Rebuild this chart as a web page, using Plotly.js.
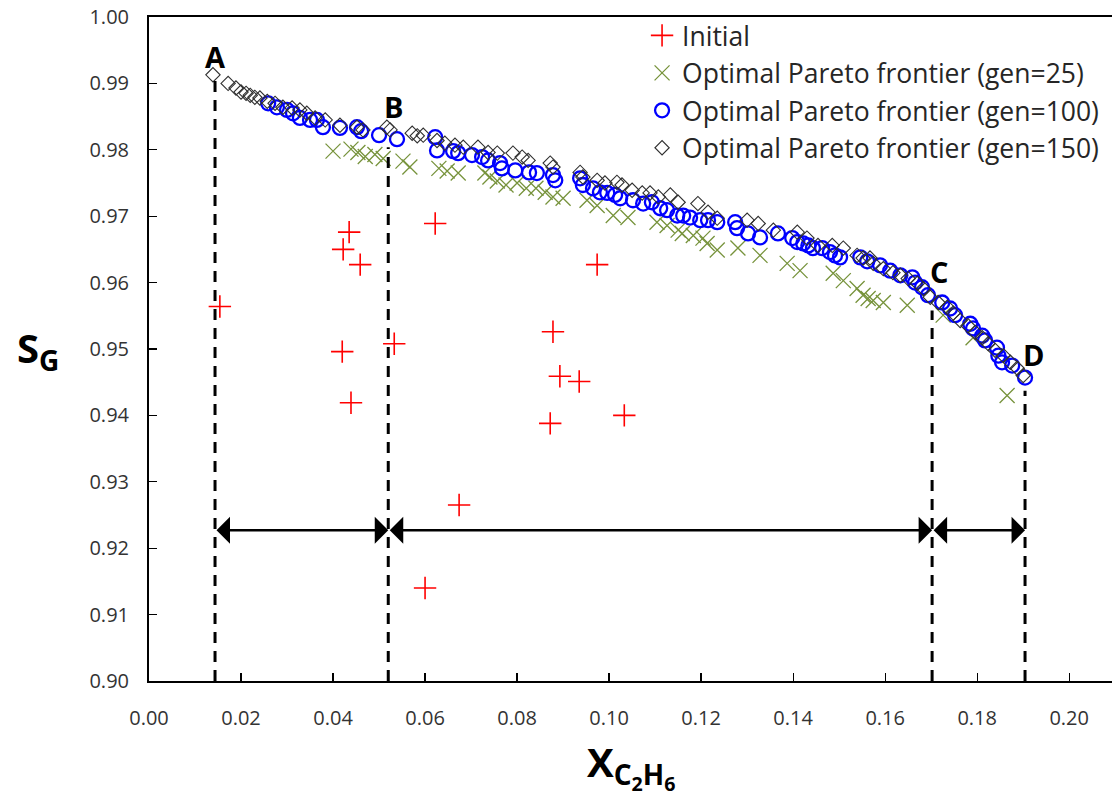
<!DOCTYPE html>
<html>
<head>
<meta charset="utf-8">
<script src="https://cdn.plot.ly/plotly-3.0.1.min.js"></script>
<style>html,body{margin:0;padding:0;background:#fff;}#chart{width:1112px;height:796px;}</style>
</head>
<body>
<div id="chart"></div>
<script>
// ---- data ----
const initialX = [0.0154,0.0422,0.0435,0.0459,0.0420,0.0439,0.0533,0.0622,0.0600,0.0674,0.0878,0.0893,0.0935,0.0872,0.1033,0.0974];
const initialY = [0.9564,0.9650,0.9676,0.9627,0.9496,0.9419,0.9508,0.9689,0.9140,0.9265,0.9526,0.9459,0.9451,0.9388,0.9400,0.9627];

const gen25X = [0.0400,0.0439,0.0454,0.0470,0.0491,0.0509,0.0552,0.0567,0.0630,0.0648,0.0672,0.0730,0.0741,0.0757,0.0776,0.0800,0.0820,0.0841,0.0861,0.0878,0.0900,0.0952,0.0974,0.1009,0.1041,0.1104,0.1126,0.1150,0.1159,0.1183,0.1204,0.1213,0.1235,0.1280,0.1328,0.1387,0.1415,0.1487,0.1509,0.1539,0.1552,0.1563,0.1574,0.1596,0.1648,0.1726,0.1791,0.1865];
const gen25Y = [0.9798,0.9801,0.9796,0.9790,0.9793,0.9787,0.9783,0.9774,0.9772,0.9768,0.9765,0.9765,0.9759,0.9753,0.9747,0.9750,0.9742,0.9742,0.9736,0.9729,0.9727,0.9724,0.9716,0.9701,0.9698,0.9691,0.9686,0.9679,0.9674,0.9671,0.9667,0.9659,0.9649,0.9652,0.9641,0.9629,0.9618,0.9614,0.9603,0.9591,0.9581,0.9576,0.9573,0.9570,0.9566,0.9551,0.9517,0.9430];

const gen100X = [0.0259,0.0278,0.0300,0.0313,0.0328,0.0350,0.0365,0.0378,0.0415,0.0452,0.0461,0.0500,0.0539,0.0622,0.0626,0.0661,0.0672,0.0702,0.0724,0.0737,0.0763,0.0767,0.0796,0.0826,0.0843,0.0878,0.0883,0.0937,0.0943,0.0965,0.0980,0.0996,0.1013,0.1024,0.1052,0.1074,0.1093,0.1111,0.1126,0.1148,0.1161,0.1176,0.1198,0.1215,0.1235,0.1274,0.1278,0.1302,0.1328,0.1367,0.1398,0.1409,0.1422,0.1433,0.1443,0.1463,0.1480,0.1491,0.1502,0.1546,0.1561,0.1589,0.1611,0.1633,0.1659,0.1665,0.1680,0.1693,0.1724,0.1741,0.1752,0.1785,0.1791,0.1811,0.1817,0.1843,0.1846,0.1854,0.1876,0.1904];
const gen100Y = [0.9870,0.9864,0.9860,0.9855,0.9848,0.9845,0.9845,0.9834,0.9833,0.9834,0.9828,0.9822,0.9816,0.9819,0.9799,0.9798,0.9795,0.9792,0.9789,0.9784,0.9780,0.9772,0.9769,0.9766,0.9765,0.9762,0.9754,0.9757,0.9747,0.9742,0.9736,0.9735,0.9732,0.9727,0.9724,0.9719,0.9721,0.9712,0.9709,0.9701,0.9701,0.9698,0.9694,0.9694,0.9691,0.9691,0.9682,0.9674,0.9668,0.9674,0.9667,0.9661,0.9659,0.9656,0.9652,0.9652,0.9646,0.9641,0.9638,0.9638,0.9632,0.9626,0.9618,0.9611,0.9608,0.9600,0.9593,0.9581,0.9570,0.9561,0.9551,0.9538,0.9531,0.9520,0.9513,0.9502,0.9490,0.9480,0.9475,0.9457];

const gen150X = [0.0139,0.0172,0.0189,0.0200,0.0211,0.0220,0.0230,0.0241,0.0257,0.0274,0.0291,0.0311,0.0328,0.0343,0.0361,0.0383,0.0415,0.0452,0.0465,0.0517,0.0524,0.0572,0.0583,0.0596,0.0626,0.0643,0.0665,0.0683,0.0715,0.0737,0.0757,0.0791,0.0811,0.0824,0.0872,0.0878,0.0937,0.0943,0.0974,0.0991,0.1017,0.1028,0.1050,0.1072,0.1089,0.1107,0.1133,0.1150,0.1193,0.1215,0.1235,0.1300,0.1324,0.1357,0.1409,0.1430,0.1454,0.1485,0.1509,0.1539,0.1552,0.1567,0.1574,0.1596,0.1617,0.1633,0.1650,0.1670,0.1683,0.1698,0.1715,0.1735,0.1748,0.1763,0.1780,0.1796,0.1811,0.1824,0.1839,0.1857,0.1872,0.1887,0.1900];
const gen150Y = [0.9913,0.9900,0.9893,0.9887,0.9885,0.9882,0.9879,0.9878,0.9873,0.9870,0.9864,0.9863,0.9860,0.9855,0.9848,0.9845,0.9837,0.9834,0.9830,0.9834,0.9830,0.9825,0.9821,0.9822,0.9814,0.9810,0.9807,0.9804,0.9804,0.9796,0.9795,0.9795,0.9789,0.9784,0.9780,0.9774,0.9766,0.9759,0.9754,0.9750,0.9751,0.9747,0.9739,0.9735,0.9735,0.9729,0.9732,0.9721,0.9719,0.9706,0.9697,0.9694,0.9689,0.9679,0.9676,0.9667,0.9656,0.9656,0.9652,0.9641,0.9637,0.9637,0.9629,0.9621,0.9615,0.9611,0.9606,0.9599,0.9591,0.9578,0.9570,0.9563,0.9554,0.9543,0.9535,0.9525,0.9517,0.9508,0.9498,0.9490,0.9480,0.9471,0.9460];

const boundaryLabels = ['A','B','C','D'];
const boundaryX = [0.01435,0.0520,0.1702,0.1904];
const boundaryTop = [0.9908,0.9804,0.9558,0.9437];
const arrowLevel = 0.9227;
const yBottom = 0.90;

const seriesNames = ['Initial','Optimal Pareto frontier (gen=25)','Optimal Pareto frontier (gen=100)','Optimal Pareto frontier (gen=150)'];
const xTickVals = [0,0.02,0.04,0.06,0.08,0.10,0.12,0.14,0.16,0.18,0.20];
const yTickVals = [0.90,0.91,0.92,0.93,0.94,0.95,0.96,0.97,0.98,0.99,1.00];

// ---- styles ----
const FONT = 'Open Sans, Noto Sans, sans-serif';
const labelShiftX = [0,5,7,8];
const labelShiftY = [0,19,17,15];

const traces = [
  {x: initialX, y: initialY, name: seriesNames[0], type:'scatter', mode:'markers', legendgroup:'g1',
   marker:{symbol:'cross-thin-open', size:16, color:'#FF0000', line:{color:'#FF0000', width:1.6}}},
  {x: gen25X, y: gen25Y, name: seriesNames[1], type:'scatter', mode:'markers', legendgroup:'g2',
   marker:{symbol:'x-thin-open', size:15, color:'#77933C', line:{color:'#77933C', width:1.3}}},
  {x: gen100X, y: gen100Y, name: seriesNames[2], type:'scatter', mode:'markers', legendgroup:'g3',
   marker:{symbol:'circle-open', size:14, color:'#0000FF', line:{color:'#0000FF', width:2.3}}},
  {x: gen150X, y: gen150Y, name: seriesNames[3], type:'scatter', mode:'markers', legendgroup:'g4',
   marker:{symbol:'diamond-open', size:11, color:'#303030', line:{color:'#303030', width:1.1}}}
];

const shapes = boundaryX.map((bx, i) => ({
  type:'line', xref:'x', yref:'y', x0: bx, x1: bx, y0: yBottom, y1: boundaryTop[i],
  line:{color:'#000', width:3, dash:'11px,8px'}
}));

const annotations = [];
boundaryLabels.forEach((lab, i) => {
  annotations.push({x: boundaryX[i], y: boundaryTop[i], xref:'x', yref:'y', text:'<b>'+lab+'</b>',
    showarrow:false, xanchor:'center', yanchor:'bottom', xshift: labelShiftX[i], yshift: labelShiftY[i],
    font:{family:FONT, size:29, color:'#000'}});
});
for (let i = 0; i < boundaryX.length - 1; i++) {
  annotations.push({x: boundaryX[i+1], y: arrowLevel, ax: boundaryX[i], ay: arrowLevel,
    xref:'x', yref:'y', axref:'x', ayref:'y', text:'', showarrow:true,
    arrowhead:1, startarrowhead:1, arrowside:'end+start', arrowsize:1.8, startarrowsize:1.8,
    arrowwidth:2.5, arrowcolor:'#000', standoff:0, startstandoff:0});
}
// axis titles
annotations.push({xref:'paper', yref:'paper', x:-0.115, y:0.5, xanchor:'center', yanchor:'middle',
  text:'<b>S<sub>G</sub></b>', showarrow:false, font:{family:FONT, size:40, color:'#000'}});
annotations.push({xref:'paper', yref:'paper', x:0.5, y:-0.128, xanchor:'center', yanchor:'middle',
  text:'<b>X<sub>C<sub>2</sub>H<sub>6</sub></sub></b>', showarrow:false, font:{family:FONT, size:40, color:'#000'}});

const layout = {
  width:1112, height:796,
  margin:{l:149, r:0, t:17, b:115},
  paper_bgcolor:'#fff', plot_bgcolor:'#fff',
  showlegend:true,
  legend:{x:0.512, y:1.008, xanchor:'left', yanchor:'top', bgcolor:'rgba(0,0,0,0)',
    font:{family:FONT, size:26.5, color:'#262626'}, tracegroupgap:0, traceorder:'grouped'},
  xaxis:{range:[0, 0.2093], tickvals:xTickVals, tickformat:'.2f', ticks:'inside', ticklen:8, tickwidth:1.3, tickcolor:'#000',
    showline:true, linecolor:'#000', linewidth:2, mirror:true, showgrid:false, zeroline:false,
    tickfont:{family:FONT, size:20, color:'#333'}, ticklabelstandoff:18},
  yaxis:{range:[0.90, 1.00], tickvals:yTickVals, tickformat:'.2f', ticks:'inside', ticklen:8, tickwidth:1.3, tickcolor:'#000',
    showline:true, linecolor:'#000', linewidth:2, showgrid:false, zeroline:false,
    tickfont:{family:FONT, size:20, color:'#333'}, ticklabelstandoff:14},
  shapes: shapes,
  annotations: annotations
};

Plotly.newPlot('chart', traces, layout, {staticPlot:true});
</script>
</body>
</html>
